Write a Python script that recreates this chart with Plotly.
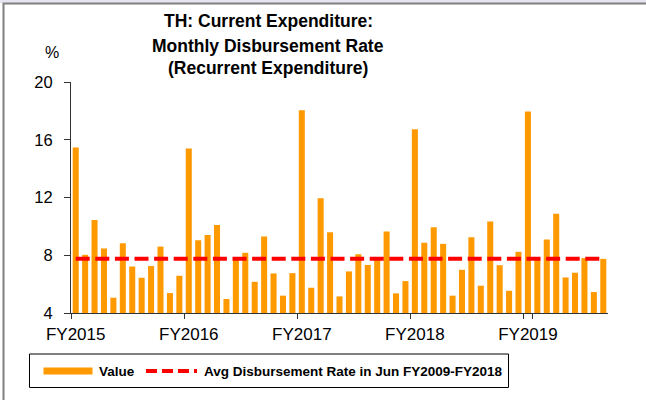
import pandas as pd
import plotly.graph_objects as go

# Months Oct-2014 .. Jun-2019 (Thai fiscal years FY2015..FY2019)
months = [d.strftime("%b-%y") for d in pd.date_range("2014-10-01", "2019-06-01", freq="MS")]

values = [
    15.46, 8.03, 10.45, 8.47, 5.06, 8.83, 7.22, 6.44, 7.25, 8.60, 5.38, 6.58,
    15.40, 9.04, 9.41, 10.10, 4.97, 7.80, 8.17, 6.16, 9.30, 6.74, 5.20, 6.76,
    18.04, 5.75, 11.95, 9.60, 5.15, 6.88, 8.07, 7.33, 7.72, 9.65, 5.36, 6.21,
    16.73, 8.86, 9.94, 8.79, 5.20, 6.99, 9.25, 5.89, 10.33, 7.31, 5.54, 8.24,
    17.95, 7.73, 9.09, 10.88, 6.46, 6.79, 7.80, 5.45, 7.75,
]
avg_rate = 7.75
avg_series = [avg_rate] * len(months)

fy_tick_months = ["Oct-14", "Oct-15", "Oct-16", "Oct-17", "Oct-18"]
fy_tick_labels = ["FY2015", "FY2016", "FY2017", "FY2018", "FY2019"]
y_ticks = [4, 8, 12, 16, 20]

title_lines = ["TH: Current Expenditure:", "Monthly Disbursement Rate", "(Recurrent Expenditure)"]
legend_labels = ["Value", "Avg Disbursement Rate in Jun FY2009-FY2018"]

W, H = 646, 400
L, R, T, B = 71, 38, 82, 87
PW, PH = W - L - R, H - T - B

def px_x(x):
    return (x - L) / PW

def px_y(y):
    return (H - B - y) / PH

ORANGE = "#FF9900"
RED = "#FF0000"
FONT = "Liberation Sans, Arial, sans-serif"

fig = go.Figure()
fig.add_trace(go.Bar(x=months, y=values, marker=dict(color=ORANGE, line=dict(width=0)),
                     name=legend_labels[0], showlegend=False))
fig.add_trace(go.Scatter(x=months, y=avg_series, mode="lines",
                         line=dict(color=RED, width=4, dash="14px,5.6px"),
                         name=legend_labels[1], showlegend=False))

shapes = []
# outer frame (top and left border)
shapes.append(dict(type="rect", xref="paper", yref="paper", x0=px_x(0), x1=px_x(W), y0=px_y(0), y1=px_y(3),
                   fillcolor="#E6E6F0", line=dict(width=0), layer="below"))
shapes.append(dict(type="rect", xref="paper", yref="paper", x0=px_x(3.5), x1=px_x(W + 20), y0=px_y(3.5), y1=px_y(H + 20),
                   line=dict(color="#808080", width=2), fillcolor="rgba(0,0,0,0)"))
# legend box
shapes.append(dict(type="rect", xref="paper", yref="paper", x0=px_x(29.5), x1=px_x(508.5), y0=px_y(354), y1=px_y(387.5),
                   line=dict(color="#000000", width=1), fillcolor="rgba(0,0,0,0)"))
shapes.append(dict(type="rect", xref="paper", yref="paper", x0=px_x(43.5), x1=px_x(92.5), y0=px_y(367.5), y1=px_y(374.5),
                   line=dict(width=0), fillcolor=ORANGE))
shapes.append(dict(type="line", xref="paper", yref="paper", x0=px_x(146), x1=px_x(197), y0=px_y(371), y1=px_y(371),
                   line=dict(color=RED, width=4, dash="11px,5px")))

annotations = []
for line, yc in zip(title_lines, [20.7, 46, 68.3]):
    annotations.append(dict(text="<b>%s</b>" % line, xref="paper", yref="paper", x=px_x(268), y=px_y(yc),
                            xanchor="center", yanchor="middle", showarrow=False,
                            font=dict(family=FONT, size=17.5, color="#000000")))
annotations.append(dict(text="%", xref="paper", yref="paper", x=px_x(51.5), y=px_y(52.5),
                        xanchor="center", yanchor="middle", showarrow=False,
                        font=dict(family=FONT, size=16, color="#000000")))
annotations.append(dict(text="<b>%s</b>" % legend_labels[0], xref="paper", yref="paper", x=px_x(97), y=px_y(371),
                        xanchor="left", yanchor="middle", showarrow=False,
                        font=dict(family=FONT, size=13.5, color="#000000")))
annotations.append(dict(text="<b>%s</b>" % legend_labels[1], xref="paper", yref="paper", x=px_x(202), y=px_y(371),
                        xanchor="left", yanchor="middle", showarrow=False,
                        font=dict(family=FONT, size=13.5, color="#000000")))

fig.update_layout(
    width=W, height=H,
    margin=dict(l=L, r=R, t=T, b=B, pad=0, autoexpand=False),
    paper_bgcolor="#FFFFFF", plot_bgcolor="#FFFFFF",
    bargap=0.36,
    showlegend=False,
    font=dict(family=FONT, size=16, color="#000000"),
    shapes=shapes,
    annotations=annotations,
    xaxis=dict(type="category", categoryorder="array", categoryarray=months,
               tickmode="array", tickvals=fy_tick_months, ticktext=fy_tick_labels,
               tickson="boundaries", ticks="outside", ticklen=5, tickcolor="#333333",
               tickangle=0, automargin=False, ticklabelstandoff=6,
               showline=True, linecolor="#333333", linewidth=1, showgrid=False, zeroline=False,
               range=[-0.5, len(months) - 0.5],
               tickfont=dict(family=FONT, size=17, color="#000000")),
    yaxis=dict(range=[4, 20], tickmode="array", tickvals=y_ticks, automargin=False,
               ticks="outside", ticklen=6, tickcolor="#333333",
               showline=True, linecolor="#333333", linewidth=1, showgrid=False, zeroline=False,
               ticklabelstandoff=8,
               tickfont=dict(family=FONT, size=16.5, color="#000000")),
)

fig.write_html("out.html", config={"displayModeBar": False},
               post_script="document.body.style.margin='0';document.body.style.padding='0';")
